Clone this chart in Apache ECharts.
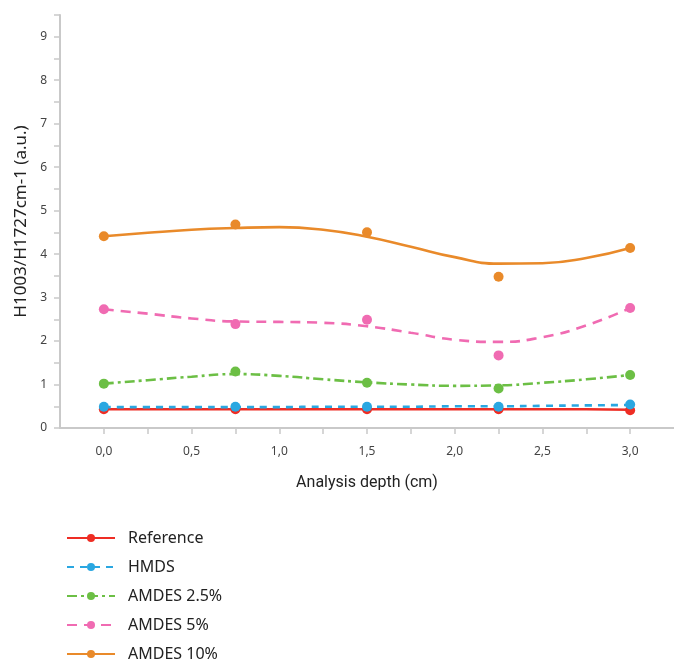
<!DOCTYPE html>
<html>
<head>
<meta charset="utf-8">
<script src="https://cdn.jsdelivr.net/npm/echarts@6/dist/echarts.min.js"></script>
<style>
  html, body { margin: 0; padding: 0; background: #ffffff; }
  #chart { width: 674px; height: 664px; }
</style>
</head>
<body>
<div id="chart"></div>
<script>
// Measured depths (cm) and the ratio H1003/H1727 at each depth
const depths = [0, 0.75, 1.5, 2.25, 3.0];
const seriesNames = ['Reference', 'HMDS', 'AMDES 2.5%', 'AMDES 5%', 'AMDES 10%'];

const refPoints    = [0.43, 0.43, 0.43, 0.43, 0.41];
const hmdsPoints   = [0.49, 0.49, 0.49, 0.49, 0.54];
const amdes25Points = [1.02, 1.30, 1.04, 0.91, 1.22];
const amdes5Points  = [2.73, 2.39, 2.49, 1.67, 2.76];
const amdes10Points = [4.41, 4.68, 4.50, 3.48, 4.14];

// Fitted trend curves, sampled every 0.25 cm
const fitDepths = [0, 0.25, 0.5, 0.75, 1.0, 1.25, 1.5, 1.75, 2.0, 2.25, 2.5, 2.75, 3.0];
const refFit     = [0.43, 0.43, 0.43, 0.43, 0.43, 0.43, 0.43, 0.43, 0.43, 0.43, 0.43, 0.43, 0.42];
const hmdsFit    = [0.48, 0.48, 0.48, 0.48, 0.48, 0.49, 0.49, 0.49, 0.50, 0.50, 0.51, 0.52, 0.53];
const amdes25Fit = [1.02, 1.10, 1.18, 1.24, 1.20, 1.12, 1.05, 1.00, 0.97, 0.98, 1.04, 1.12, 1.22];
const amdes5Fit  = [2.73, 2.63, 2.52, 2.45, 2.44, 2.42, 2.34, 2.19, 2.03, 1.98, 2.09, 2.36, 2.76];
const amdes10Fit = [4.41, 4.49, 4.56, 4.60, 4.62, 4.56, 4.40, 4.17, 3.93, 3.78, 3.79, 3.91, 4.14];

// Axis tick values
const xTicks = [0, 0.5, 1.0, 1.5, 2.0, 2.5, 3.0];
const yTicks = [0, 1, 2, 3, 4, 5, 6, 7, 8, 9];

const colors = ['#ee2d24', '#2aa7e1', '#6cbf45', '#f06bb2', '#e98a2a'];
const lineTypes = ['solid', [7, 6], [10, 4, 3, 4], [10, 7], 'solid'];
const pointSets = [refPoints, hmdsPoints, amdes25Points, amdes5Points, amdes10Points];
const fitSets = [refFit, hmdsFit, amdes25Fit, amdes5Fit, amdes10Fit];

const pairs = (xs, ys) => xs.map((x, i) => [x, ys[i]]);

const lineSeries = seriesNames.map((name, i) => ({
  name: name,
  type: 'line',
  smooth: 0.5,
  symbol: 'circle',
  symbolSize: 8,
  showSymbol: false,
  z: 2 + i,
  data: pairs(fitDepths, fitSets[i]),
  lineStyle: { color: colors[i], width: 2.6, type: lineTypes[i] },
  itemStyle: { color: colors[i] },
  silent: true
}));

const pointSeries = seriesNames.map((name, i) => ({
  name: name,
  type: 'scatter',
  symbol: 'circle',
  symbolSize: 10,
  z: 10 + i,
  data: pairs(depths, pointSets[i]),
  itemStyle: { color: colors[i], opacity: 1 },
  silent: true
}));

const fmtComma = v => v.toFixed(1).replace('.', ',');
const near = (v, list) => list.some(t => Math.abs(t - v) < 1e-6);

const chart = echarts.init(document.getElementById('chart'), null, { renderer: 'canvas' });
chart.setOption({
  animation: false,
  backgroundColor: '#ffffff',
  grid: { left: 60, right: 0, top: 15, bottom: 236, containLabel: false },
  xAxis: {
    type: 'value',
    min: -0.25,
    max: 3.25,
    interval: 0.25,
    name: 'Analysis depth (cm)',
    nameLocation: 'middle',
    nameGap: 47,
    nameTextStyle: { fontFamily: 'Liberation Sans Narrow, Roboto, sans-serif', fontSize: 16, color: '#222' },
    axisLine: { show: true, onZero: false, lineStyle: { color: '#c9c9c9', width: 2 } },
    axisTick: { show: true, length: 6, lineStyle: { color: '#c9c9c9', width: 1.5 } },
    splitLine: { show: false },
    axisLabel: {
      margin: 18,
      fontFamily: 'Noto Sans, sans-serif',
      fontSize: 12,
      color: '#444',
      showMinLabel: false,
      showMaxLabel: false,
      formatter: v => near(v, xTicks) ? fmtComma(v) : ''
    }
  },
  yAxis: {
    type: 'value',
    min: 0,
    max: 9.5,
    interval: 0.5,
    name: 'H1003/H1727cm-1 (a.u.)',
    nameLocation: 'middle',
    nameGap: 30,
    nameRotate: 90,
    nameTextStyle: { fontFamily: 'Noto Sans, sans-serif', fontSize: 17, color: '#222' },
    axisLine: { show: true, onZero: false, lineStyle: { color: '#c9c9c9', width: 2 } },
    axisTick: { show: true, length: 6, lineStyle: { color: '#c9c9c9', width: 1.5 } },
    splitLine: { show: false },
    axisLabel: {
      margin: 13,
      fontFamily: 'Noto Sans, sans-serif',
      fontSize: 12,
      color: '#444',
      formatter: v => near(v, yTicks) ? String(v) : ''
    }
  },
  legend: {
    orient: 'vertical',
    left: 66,
    top: 530,
    height: 150,
    itemWidth: 48,
    itemHeight: 10,
    itemGap: 13,
    padding: 0,
    selectedMode: false,
    data: seriesNames,
    textStyle: { fontFamily: 'Noto Sans, sans-serif', fontSize: 16, color: '#222', padding: [0, 0, 0, 8] }
  },
  series: lineSeries.concat(pointSeries)
});
</script>
</body>
</html>
